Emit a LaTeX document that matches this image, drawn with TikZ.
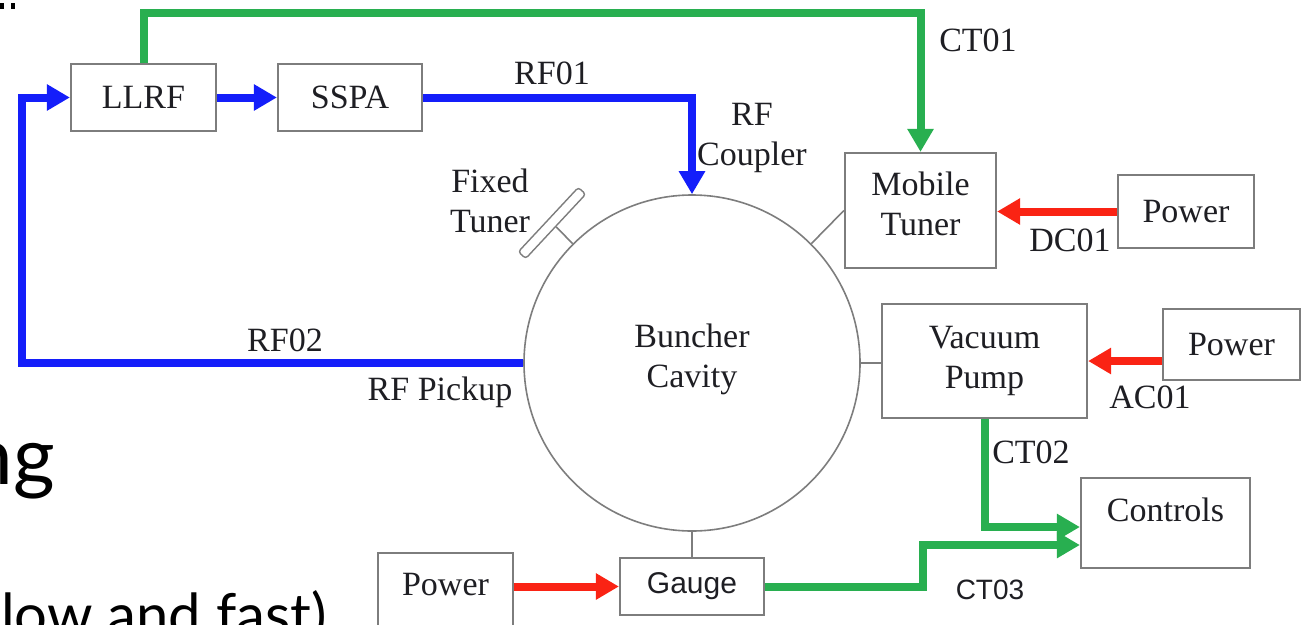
\documentclass[tikz,border=0pt]{standalone}
\usepackage{fontspec}
\setmainfont{Liberation Serif}
\newfontfamily\gaugefont{Liberation Sans}
\newfontfamily\slidefont{Lato}
\usetikzlibrary{arrows.meta}
\definecolor{rfblue}{RGB}{20,30,250}
\definecolor{ctgreen}{RGB}{40,175,80}
\definecolor{pwred}{RGB}{250,35,20}
\definecolor{boxgray}{RGB}{125,125,125}
\definecolor{txtgray}{RGB}{30,30,35}

\begin{document}
\begin{tikzpicture}[x=1pt,y=-1pt,
		block/.style={draw=boxgray,line width=2.2pt,fill=white,align=center,inner sep=0pt,
			text=txtgray,font=\fontsize{34}{40}\selectfont},
		lbl/.style={text=txtgray,align=center,inner sep=0pt,font=\fontsize{34}{40}\selectfont},
		sig/.style={line width=8pt,-{Triangle[length=23pt,width=25pt]}},
		link/.style={draw=boxgray,line width=1.6pt}]
		\useasboundingbox (0,0) rectangle (1305,624);
		% slide fragments
		\fill (0,3) rectangle (4,9);
		\fill (11,3) rectangle (15,9);
		\node[anchor=base east,inner sep=0pt,font=\slidefont\fontsize{80}{80}\selectfont] (ngtxt) at (55,484) {ng};
		\node[anchor=north west,inner sep=0pt,font=\slidefont\fontsize{58}{58}\selectfont] (slowtxt) at (1,590) {low and fast)};
		% cavity and tuners
		\node[circle,draw=boxgray,line width=1.6pt,minimum size=336pt,inner sep=0pt,
			text=txtgray,align=center,font=\fontsize{34}{40}\selectfont] (cav) at (692,363) {Buncher\\Cavity\\[-26pt]};
		\node[draw=boxgray,line width=1.4pt,rounded corners=3pt,minimum width=88pt,minimum height=10pt,
			inner sep=0pt,rotate=47] (ftun) at (552,223) {};
		\node[lbl] (ftunlbl) at (490,201) {Fixed\\Tuner};
		% boxes
		\node[block,minimum width=145pt,minimum height=67pt] (llrf) at (143.5,97.5) {LLRF};
		\node[block,minimum width=144pt,minimum height=67pt] (sspa) at (350,97.5) {SSPA};
		\node[block,minimum width=151pt,minimum height=115pt] (mt) at (920.5,210.5) {Mobile\\Tuner\\[-26pt]};
		\node[block,minimum width=136pt,minimum height=73pt] (pw1) at (1186,211.5) {Power};
		\node[block,minimum width=205pt,minimum height=114pt] (vp) at (984.5,361) {Vacuum\\Pump};
		\node[block,minimum width=137pt,minimum height=71pt] (pw2) at (1231.5,344.5) {Power};
		\node[block,minimum width=169pt,minimum height=90pt] (ctl) at (1165.5,523) {Controls\\[-14pt]};
		\node[block,minimum width=144pt,minimum height=57pt,font=\gaugefont\fontsize{30}{32}\selectfont] (gauge) at (692,586.5) {Gauge};
		\node[block,minimum width=135pt,minimum height=75pt] (pw3) at (445.5,590.5) {Power\\[-28pt]};
		% thin links to the cavity
		\draw[link] (cav.135) -- (ftun.south);
		\draw[link] (cav.45) -- (mt.west);
		\draw[link] (cav.east) -- (cav.east -| vp.west);
		\draw[link] (cav.south) -- (gauge.north);
		% rf path
		\coordinate (rfleft) at (22,0);
		\draw[sig,rfblue] (llrf) -- (sspa);
		\draw[sig,rfblue] (sspa.east) -| (cav.north);
		\draw[sig,rfblue] (cav.west) -- (cav.west -| rfleft) |- (llrf.west);
		% control lines
		\coordinate (cttop) at (0,13);
		\coordinate (ctbend) at (923,0);
		\draw[sig,ctgreen] (llrf.north) |- (mt.north |- cttop) -- (mt.north);
		\draw[sig,ctgreen] (vp.south) |- ([yshift=-4pt]ctl.west);
		\draw[sig,ctgreen] (gauge.east) -- (gauge.east -| ctbend) |- ([yshift=-22pt]ctl.west);
		% power feeds
		\draw[sig,pwred] (pw1.west) -- (pw1.west -| mt.east);
		\draw[sig,pwred] (pw2.west |- vp.east) -- (vp.east);
		\draw[sig,pwred] (pw3.east |- gauge.west) -- (gauge.west);
		% labels
		\node[lbl] (rf01) at (552,73) {RF01};
		\node[lbl] (rfcpl) at (752,138) {RF\\Coupler};
		\node[lbl] (ct01) at (978,40) {CT01};
		\node[lbl] (rf02) at (285,340) {RF02};
		\node[lbl] (rfpick) at (440,392) {RF Pickup};
		\node[lbl] (dc01) at (1070,240) {DC01};
		\node[lbl] (ac01) at (1150,397) {AC01};
		\node[lbl] (ct02) at (1031,452) {CT02};
		\node[lbl,font=\gaugefont\fontsize{28}{30}\selectfont] (ct03) at (990,590) {CT03};
	\end{tikzpicture}
\end{document}
